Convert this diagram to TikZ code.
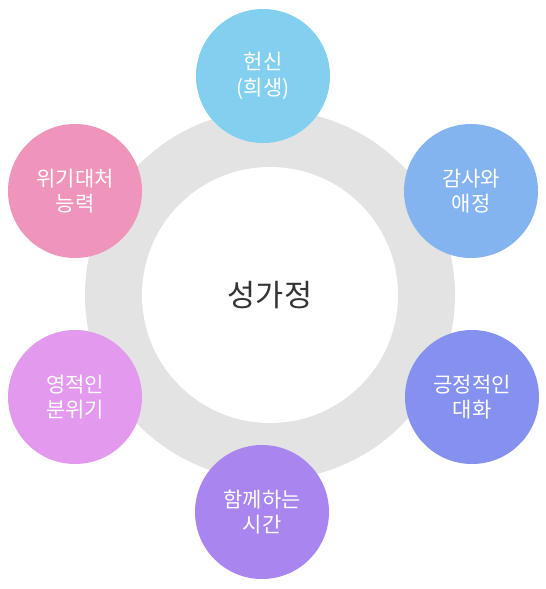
\documentclass[tikz,border=0pt]{standalone}
\usepackage{fontspec}
\setmainfont{Noto Sans CJK KR}
\usepackage{xcolor}
\usetikzlibrary{positioning,calc}

\definecolor{ringgray}{HTML}{E3E3E3}
\definecolor{hubtext}{HTML}{333333}
\definecolor{cSky}{HTML}{82CFEF}
\definecolor{cBlue}{HTML}{83B4EF}
\definecolor{cIndigo}{HTML}{8591EF}
\definecolor{cViolet}{HTML}{A985EF}
\definecolor{cOrchid}{HTML}{E39AEE}
\definecolor{cPink}{HTML}{EF94BA}

\begin{document}
\begin{tikzpicture}[
    x=1pt, y=-1pt,
    every node/.style={inner sep=0pt},
    ring/.style={
        circle, fill=ringgray, minimum size=370pt
    },
    hub/.style={
        circle, fill=white, minimum size=256pt,
        font=\fontsize{30.5}{36}\selectfont, text=hubtext
    },
    value/.style={
        circle, minimum size=134pt,
        text centered, align=center, text=white,
        font=\fontsize{21}{25.5}\selectfont
    }
]

\useasboundingbox (0,0) rectangle (546,589);

% --- Gray ring with centre ---
\node[ring] (ring) at (270,295) {};
\node[hub] (hub) at (ring) {성가정};

% --- Surrounding values ---
\node[value, fill=cSky] (devotion) at (263,76) {헌신\\(희생)};
\node[value, fill=cBlue] (gratitude) at (471,191) {감사와\\애정};
\node[value, fill=cIndigo] (dialogue) at (472,397) {긍정적인\\대화};
\node[value, fill=cViolet] (together) at (262,512) {함께하는\\시간};
\node[value, fill=cOrchid] (spirit) at (75,397) {영적인\\분위기};
\node[value, fill=cPink] (crisis) at (75,191) {위기대처\\능력};

\end{tikzpicture}
\end{document}
